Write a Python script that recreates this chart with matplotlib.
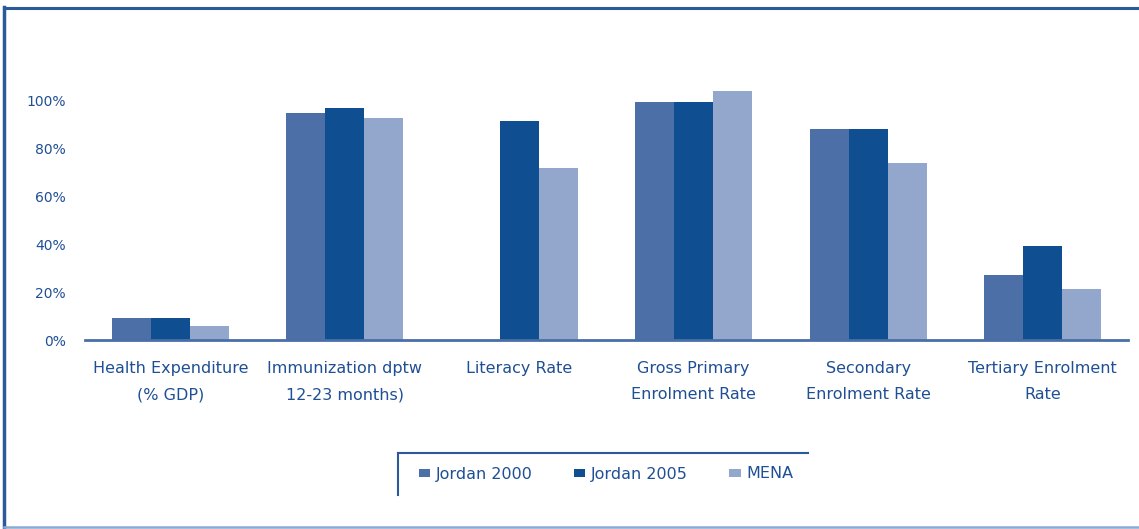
import numpy as np
import matplotlib.pyplot as plt
from matplotlib.lines import Line2D

# Indicator values in percent
categories = ["Health Expenditure\n(% GDP)", "Immunization dptw\n12-23 months)", "Literacy Rate",
              "Gross Primary\nEnrolment Rate", "Secondary\nEnrolment Rate", "Tertiary Enrolment\nRate"]
jordan_2000 = [9.3, 94.6, 0.0, 99.2, 87.8, 27.1]
jordan_2005 = [9.3, 96.8, 91.4, 99.2, 87.8, 39.2]
mena = [5.8, 92.5, 71.5, 103.6, 73.6, 21.3]
series_names = ["Jordan 2000", "Jordan 2005", "MENA"]
yticks = [0, 20, 40, 60, 80, 100]
ytick_labels = ["0%", "20%", "40%", "60%", "80%", "100%"]

colors = ["#4D6FA8", "#0F4F91", "#93A6CC"]
text_color = "#1F4F94"

W, H = 1139, 529
fig = plt.figure(figsize=(W / 100, H / 100), dpi=100)
ax = fig.add_axes([85 / W, (H - 340) / H, 1043 / W, 276 / H])

x = np.arange(len(categories))
bw = 0.2235
handles = []
for i, (vals, c) in enumerate(zip([jordan_2000, jordan_2005, mena], colors)):
    b = ax.bar(x + (i - 1) * bw, vals, width=bw, color=c, edgecolor="none")
    handles.append(b)

ax.set_xlim(-0.49, 5.49)
ax.set_ylim(0, 115)
ax.set_yticks(yticks)
ax.set_yticklabels(ytick_labels)
ax.set_xticks(x)
ax.set_xticklabels(categories, linespacing=1.95)
ax.tick_params(axis="both", length=0, labelcolor=text_color)
ax.tick_params(axis="y", pad=14, labelsize=10)
ax.tick_params(axis="x", pad=15, labelsize=11.5)
for s in ["top", "right", "left"]:
    ax.spines[s].set_visible(False)
ax.spines["bottom"].set_color("#4A6FA8")
ax.spines["bottom"].set_linewidth(2)

# Legend, framed only on top and left
leg = fig.legend(handles, series_names, loc="center left", bbox_to_anchor=(419 / W, (H - 474) / H),
                 ncol=3, frameon=False, fontsize=11.5, handlelength=0.7, handleheight=0.45,
                 handletextpad=0.35, columnspacing=2.6, labelcolor=text_color,
                 borderpad=0, borderaxespad=0)
fig.add_artist(Line2D([398 / W, 808 / W], [(H - 452.5) / H] * 2, color="#2A5A9A", lw=1.5))
fig.add_artist(Line2D([398 / W] * 2, [(H - 452.5) / H, (H - 495) / H], color="#2A5A9A", lw=1.5))

# Outer border
fig.add_artist(Line2D([4 / W, 4 / W], [(H - 7) / H, (H - 527) / H], color="#2A5A9A", lw=2.5))
fig.add_artist(Line2D([4 / W, 1.0], [(H - 7.5) / H] * 2, color="#2A5A9A", lw=2.2))
fig.add_artist(Line2D([4 / W, 1.0], [(H - 527) / H] * 2, color="#8AAAD5", lw=1.8))

fig.savefig("out.png", dpi=100)
